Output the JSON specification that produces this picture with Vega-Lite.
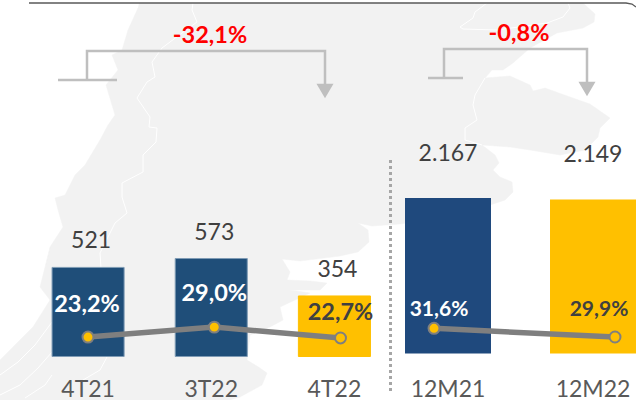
{
"$schema":"https://vega.github.io/schema/vega-lite/v6.json",
"width":636,"height":400,"padding":0,"autosize":{"type":"none"},
"background":"white",
"config":{"view":{"stroke":null},"font":"Lato","text":{"font":"Lato"}},
"datasets":{
"quarters":[{"period":"4T21","value":521,"margin":23.2},{"period":"3T22","value":573,"margin":29.0},{"period":"4T22","value":354,"margin":22.7}],
"years":[{"period":"12M21","value":2167,"margin":31.6},{"period":"12M22","value":2149,"margin":29.9}],
"map":[
{"part":"a","i":1,"x":139,"y":3},{"part":"a","i":2,"x":583,"y":3},{"part":"a","i":3,"x":595,"y":14},{"part":"a","i":4,"x":594,"y":22},{"part":"a","i":5,"x":583,"y":28},{"part":"a","i":6,"x":557,"y":33},{"part":"a","i":7,"x":530,"y":48},{"part":"a","i":8,"x":513,"y":63},{"part":"a","i":9,"x":503,"y":70},{"part":"a","i":10,"x":492,"y":70},{"part":"a","i":11,"x":485,"y":78},{"part":"a","i":12,"x":510,"y":76},{"part":"a","i":13,"x":530,"y":85},{"part":"a","i":14,"x":533,"y":91},{"part":"a","i":15,"x":545,"y":88},{"part":"a","i":16,"x":570,"y":97},{"part":"a","i":17,"x":590,"y":104},{"part":"a","i":18,"x":610,"y":118},{"part":"a","i":19,"x":600,"y":128},{"part":"a","i":20,"x":598,"y":137},{"part":"a","i":21,"x":585,"y":150},{"part":"a","i":22,"x":560,"y":155},{"part":"a","i":23,"x":530,"y":150},{"part":"a","i":24,"x":510,"y":147},{"part":"a","i":25,"x":482,"y":145},{"part":"a","i":26,"x":495,"y":155},{"part":"a","i":27,"x":499,"y":163},{"part":"a","i":28,"x":493,"y":170},{"part":"a","i":29,"x":500,"y":177},{"part":"a","i":30,"x":512,"y":182},{"part":"a","i":31,"x":513,"y":192},{"part":"a","i":32,"x":505,"y":200},{"part":"a","i":33,"x":490,"y":205},{"part":"a","i":34,"x":470,"y":215},{"part":"a","i":35,"x":400,"y":224},{"part":"a","i":36,"x":372,"y":226},{"part":"a","i":37,"x":358,"y":223},{"part":"a","i":38,"x":368,"y":230},{"part":"a","i":39,"x":369,"y":242},{"part":"a","i":40,"x":358,"y":252},{"part":"a","i":41,"x":340,"y":256},{"part":"a","i":42,"x":300,"y":261},{"part":"a","i":43,"x":282,"y":259},{"part":"a","i":44,"x":290,"y":272},{"part":"a","i":45,"x":287,"y":280},{"part":"a","i":46,"x":310,"y":281},{"part":"a","i":47,"x":327,"y":283},{"part":"a","i":48,"x":320,"y":290},{"part":"a","i":49,"x":290,"y":290},{"part":"a","i":50,"x":310,"y":293},{"part":"a","i":51,"x":280,"y":307},{"part":"a","i":52,"x":283,"y":320},{"part":"a","i":53,"x":270,"y":327},{"part":"a","i":54,"x":250,"y":335},{"part":"a","i":55,"x":247,"y":360},{"part":"a","i":56,"x":260,"y":368},{"part":"a","i":57,"x":267,"y":373},{"part":"a","i":58,"x":262,"y":385},{"part":"a","i":59,"x":240,"y":397},{"part":"a","i":60,"x":230,"y":400},{"part":"a","i":61,"x":0,"y":400},{"part":"a","i":62,"x":0,"y":360},{"part":"a","i":63,"x":13,"y":347},{"part":"a","i":64,"x":33,"y":327},{"part":"a","i":65,"x":50,"y":300},{"part":"a","i":66,"x":40,"y":287},{"part":"a","i":67,"x":45,"y":267},{"part":"a","i":68,"x":50,"y":247},{"part":"a","i":69,"x":63,"y":227},{"part":"a","i":70,"x":58,"y":210},{"part":"a","i":71,"x":55,"y":198},{"part":"a","i":72,"x":65,"y":195},{"part":"a","i":73,"x":75,"y":175},{"part":"a","i":74,"x":85,"y":165},{"part":"a","i":75,"x":100,"y":140},{"part":"a","i":76,"x":108,"y":125},{"part":"a","i":77,"x":115,"y":115},{"part":"a","i":78,"x":106,"y":85},{"part":"a","i":79,"x":118,"y":70},{"part":"a","i":80,"x":112,"y":55},{"part":"a","i":81,"x":122,"y":50},{"part":"a","i":82,"x":128,"y":30},{"part":"a","i":83,"x":138,"y":8}
],
"rivers":[
{"part":"r1","i":1,"x":193,"y":3},{"part":"r1","i":2,"x":192,"y":10},{"part":"r1","i":3,"x":197,"y":22},{"part":"r1","i":4,"x":182,"y":33},{"part":"r1","i":5,"x":162,"y":48},{"part":"r1","i":6,"x":152,"y":62},{"part":"r1","i":7,"x":155,"y":77},{"part":"r1","i":8,"x":147,"y":82},{"part":"r1","i":9,"x":137,"y":98},{"part":"r1","i":10,"x":150,"y":117},{"part":"r1","i":11,"x":149,"y":127},{"part":"r1","i":12,"x":157,"y":128},{"part":"r1","i":13,"x":156,"y":142},{"part":"r1","i":14,"x":143,"y":155},{"part":"r1","i":15,"x":143,"y":172},{"part":"r1","i":16,"x":122,"y":183},{"part":"r1","i":17,"x":122,"y":197},{"part":"r1","i":18,"x":127,"y":213},{"part":"r1","i":19,"x":115,"y":223},{"part":"r1","i":20,"x":100,"y":253},{"part":"r1","i":21,"x":107,"y":357},{"part":"r1","i":22,"x":100,"y":370},{"part":"r1","i":23,"x":83,"y":380},{"part":"r1","i":24,"x":80,"y":397},
{"part":"r2","i":1,"x":487,"y":3},{"part":"r2","i":2,"x":475,"y":12},{"part":"r2","i":3,"x":473,"y":18},{"part":"r2","i":4,"x":460,"y":27},{"part":"r2","i":5,"x":463,"y":29},{"part":"r2","i":6,"x":497,"y":30},{"part":"r2","i":7,"x":547,"y":23},{"part":"r2","i":8,"x":563,"y":17},{"part":"r2","i":9,"x":570,"y":8},{"part":"r2","i":10,"x":568,"y":3},
{"part":"r3","i":1,"x":485,"y":78},{"part":"r3","i":2,"x":475,"y":95},{"part":"r3","i":3,"x":473,"y":105},{"part":"r3","i":4,"x":477,"y":120},{"part":"r3","i":5,"x":465,"y":128},{"part":"r3","i":6,"x":465,"y":140},{"part":"r3","i":7,"x":482,"y":145},
{"part":"f1","i":1,"x":0,"y":395},{"part":"f1","i":2,"x":20,"y":385},{"part":"f1","i":3,"x":38,"y":368},{"part":"f1","i":4,"x":52,"y":352},
{"part":"f2","i":1,"x":0,"y":375},{"part":"f2","i":2,"x":18,"y":362},{"part":"f2","i":3,"x":35,"y":345},{"part":"f2","i":4,"x":52,"y":322},
{"part":"f3","i":1,"x":25,"y":398},{"part":"f3","i":2,"x":45,"y":385},{"part":"f3","i":3,"x":52,"y":375}
],
"brackets":[
{"part":"t1","i":1,"x":58,"y":80},{"part":"t1","i":2,"x":117,"y":80},
{"part":"a1","i":1,"x":87,"y":80},{"part":"a1","i":2,"x":87,"y":51},{"part":"a1","i":3,"x":325,"y":51},{"part":"a1","i":4,"x":325,"y":90},
{"part":"t2","i":1,"x":428,"y":78},{"part":"t2","i":2,"x":463,"y":78},
{"part":"a2","i":1,"x":444,"y":78},{"part":"a2","i":2,"x":444,"y":49},{"part":"a2","i":3,"x":587,"y":49},{"part":"a2","i":4,"x":587,"y":88}
],
"heads":[{"x":325,"y":91},{"x":587,"y":89}],
"deltas":[{"label":"-32,1%","x":210,"y":36},{"label":"-0,8%","x":519,"y":34}],
"frame":[{"i":1,"x":29,"y":3},{"i":2,"x":626,"y":3},{"i":3,"x":632,"y":4},{"i":4,"x":636,"y":7}],
"divider":[{"x":390.5,"y":160},{"x":390.5,"y":392}]
},
"resolve":{"scale":{"x":"independent","y":"independent","fill":"independent","stroke":"independent"},"axis":{"x":"independent","y":"independent"}},
"layer":[
{"data":{"name":"map"},"mark":{"type":"line","fill":"#f2f2f2","stroke":"#f2f2f2","strokeWidth":0.5},
 "encoding":{"x":{"field":"x","type":"quantitative","axis":null,"scale":{"domain":[0,636],"range":[0,636]}},"y":{"field":"y","type":"quantitative","axis":null,"scale":{"domain":[0,400],"range":[0,400]}},"order":{"field":"i"},"detail":{"field":"part"}}},
{"data":{"name":"rivers"},"mark":{"type":"line","stroke":"white","strokeWidth":1},
 "encoding":{"x":{"field":"x","type":"quantitative","axis":null,"scale":{"domain":[0,636],"range":[0,636]}},"y":{"field":"y","type":"quantitative","axis":null,"scale":{"domain":[0,400],"range":[0,400]}},"order":{"field":"i"},"detail":{"field":"part"}}},
{"data":{"name":"frame"},"mark":{"type":"line","stroke":"#595959","strokeWidth":1.3},
 "encoding":{"x":{"field":"x","type":"quantitative","axis":null,"scale":{"domain":[0,636],"range":[0,636]}},"y":{"field":"y","type":"quantitative","axis":null,"scale":{"domain":[0,400],"range":[0,400]}},"order":{"field":"i"}}},
{"data":{"name":"divider"},"mark":{"type":"line","stroke":"#a6a6a6","strokeWidth":3,"strokeDash":[3,3]},
 "encoding":{"x":{"field":"x","type":"quantitative","axis":null,"scale":{"domain":[0,636],"range":[0,636]}},"y":{"field":"y","type":"quantitative","axis":null,"scale":{"domain":[0,400],"range":[0,400]}}}},
{"data":{"name":"brackets"},"mark":{"type":"line","stroke":"#bfbfbf","strokeWidth":2.5,"strokeJoin":"miter"},
 "encoding":{"x":{"field":"x","type":"quantitative","axis":null,"scale":{"domain":[0,636],"range":[0,636]}},"y":{"field":"y","type":"quantitative","axis":null,"scale":{"domain":[0,400],"range":[0,400]}},"order":{"field":"i"},"detail":{"field":"part"}}},
{"data":{"name":"heads"},"mark":{"type":"point","shape":"triangle-down","filled":true,"color":"#bfbfbf","opacity":1,"size":290},
 "encoding":{"x":{"field":"x","type":"quantitative","axis":null,"scale":{"domain":[0,636],"range":[0,636]}},"y":{"field":"y","type":"quantitative","axis":null,"scale":{"domain":[0,400],"range":[0,400]}}}},
{"data":{"name":"deltas"},"mark":{"type":"text","font":"Lato","fontWeight":"bold","fontSize":23.5,"color":"#ff0000","baseline":"middle"},
 "encoding":{"text":{"field":"label"},"x":{"field":"x","type":"quantitative","axis":null,"scale":{"domain":[0,636],"range":[0,636]}},"y":{"field":"y","type":"quantitative","axis":null,"scale":{"domain":[0,400],"range":[0,400]}}}},

{"data":{"name":"quarters"},"mark":{"type":"bar","strokeWidth":1},
 "encoding":{
  "x":{"field":"period","type":"nominal","sort":null,"title":null,"scale":{"type":"band","domain":["4T21","3T22","4T22"],"range":[26.5,396],"paddingInner":0.415,"paddingOuter":0.2075},"axis":{"orient":"bottom","offset":-22,"zindex":1,"domain":false,"ticks":false,"labelPadding":0,"labelAngle":0,"labelFont":"Lato","labelFontSize":23,"labelColor":"#595959","grid":false}},
  "y":{"field":"value","type":"quantitative","axis":null,"scale":{"domain":[0,600],"range":[356.5,253.9]}},
  "fill":{"field":"period","type":"nominal","legend":null,"scale":{"domain":["4T21","3T22","4T22"],"range":["#1f4e79","#1f4e79","#ffc000"]}},
  "stroke":{"field":"period","type":"nominal","legend":null,"scale":{"domain":["4T21","3T22","4T22"],"range":["#7f9bb5","#7f9bb5","#ffc000"]}}}},
{"data":{"name":"quarters"},"mark":{"type":"text","font":"Lato","fontSize":23,"color":"#404040","dy":-26,"dx":3,"baseline":"middle"},
 "encoding":{"text":{"field":"value","type":"nominal"},
  "x":{"field":"period","type":"nominal","sort":null,"axis":null,"scale":{"type":"band","domain":["4T21","3T22","4T22"],"range":[26.5,396],"paddingInner":0.415,"paddingOuter":0.2075}},
  "y":{"field":"value","type":"quantitative","axis":null,"scale":{"domain":[0,600],"range":[356.5,253.9]}}}},
{"data":{"name":"years"},"mark":{"type":"bar"},
 "encoding":{
  "x":{"field":"period","type":"nominal","sort":null,"title":null,"scale":{"type":"band","domain":["12M21","12M22"],"range":[375.5,665.5],"paddingInner":0.407,"paddingOuter":0.2035},"axis":{"orient":"bottom","offset":-22,"zindex":1,"domain":false,"ticks":false,"labelPadding":0,"labelAngle":0,"labelFont":"Lato","labelFontSize":23,"labelColor":"#595959","grid":false}},
  "y":{"field":"value","type":"quantitative","axis":null,"scale":{"domain":[0,2400],"range":[353.5,181.4]}},
  "fill":{"field":"period","type":"nominal","legend":null,"scale":{"domain":["12M21","12M22"],"range":["#1f497d","#ffc000"]}}}},
{"data":{"name":"years"},"mark":{"type":"text","font":"Lato","fontSize":23,"color":"#404040","dy":-44,"baseline":"middle"},
 "encoding":{"text":{"field":"label","type":"nominal"},
  "x":{"field":"period","type":"nominal","sort":null,"axis":null,"scale":{"type":"band","domain":["12M21","12M22"],"range":[375.5,665.5],"paddingInner":0.407,"paddingOuter":0.2035}},
  "y":{"field":"value","type":"quantitative","axis":null,"scale":{"domain":[0,2400],"range":[353.5,181.4]}}},
 "transform":[{"calculate":"replace(format(datum.value,','),',','.')","as":"label"}]},

{"data":{"name":"quarters"},"mark":{"type":"line","stroke":"#7f7f7f","strokeWidth":5.5},
 "encoding":{"x":{"field":"period","type":"nominal","sort":null,"axis":null,"scale":{"type":"point","domain":["4T21","3T22","4T22"],"range":[88,340.5],"padding":0}},
  "y":{"field":"margin","type":"quantitative","axis":null,"scale":{"domain":[0,40],"range":[377,308.2]}}}},
{"data":{"name":"quarters"},"mark":{"type":"point","filled":false,"fill":"#ffc000","stroke":"#7f7f7f","strokeWidth":2,"opacity":1,"size":120},
 "encoding":{"x":{"field":"period","type":"nominal","sort":null,"axis":null,"scale":{"type":"point","domain":["4T21","3T22","4T22"],"range":[88,340.5],"padding":0}},
  "y":{"field":"margin","type":"quantitative","axis":null,"scale":{"domain":[0,40],"range":[377,308.2]}}}},
{"data":{"name":"years"},"mark":{"type":"line","stroke":"#7f7f7f","strokeWidth":5.5},
 "encoding":{"x":{"field":"period","type":"nominal","sort":null,"axis":null,"scale":{"type":"point","domain":["12M21","12M22"],"range":[434,615],"padding":0}},
  "y":{"field":"margin","type":"quantitative","axis":null,"scale":{"domain":[0,40],"range":[489.5,285.5]}}}},
{"data":{"name":"years"},"mark":{"type":"point","filled":false,"fill":"#ffc000","stroke":"#7f7f7f","strokeWidth":2,"opacity":1,"size":120},
 "encoding":{"x":{"field":"period","type":"nominal","sort":null,"axis":null,"scale":{"type":"point","domain":["12M21","12M22"],"range":[434,615],"padding":0}},
  "y":{"field":"margin","type":"quantitative","axis":null,"scale":{"domain":[0,40],"range":[489.5,285.5]}}}},

{"data":{"name":"quarters"},"transform":[{"filter":"datum.period==='4T21'"},{"calculate":"replace(format(datum.margin,'.1f'),'.',',')+'%'","as":"label"}],"mark":{"type":"text","font":"Lato","fontWeight":"bold","fontSize":23.5,"color":"white","dy":-32,"dx":-1,"baseline":"middle"},
 "encoding":{"text":{"field":"label"},"x":{"field":"period","type":"nominal","sort":null,"axis":null,"scale":{"type":"point","domain":["4T21","3T22","4T22"],"range":[88,340.5],"padding":0}},"y":{"field":"margin","type":"quantitative","axis":null,"scale":{"domain":[0,40],"range":[377,308.2]}}}},
{"data":{"name":"quarters"},"transform":[{"filter":"datum.period==='3T22'"},{"calculate":"replace(format(datum.margin,'.1f'),'.',',')+'%'","as":"label"}],"mark":{"type":"text","font":"Lato","fontWeight":"bold","fontSize":23.5,"color":"white","dy":-33,"baseline":"middle"},
 "encoding":{"text":{"field":"label"},"x":{"field":"period","type":"nominal","sort":null,"axis":null,"scale":{"type":"point","domain":["4T21","3T22","4T22"],"range":[88,340.5],"padding":0}},"y":{"field":"margin","type":"quantitative","axis":null,"scale":{"domain":[0,40],"range":[377,308.2]}}}},
{"data":{"name":"quarters"},"transform":[{"filter":"datum.period==='4T22'"},{"calculate":"replace(format(datum.margin,'.1f'),'.',',')+'%'","as":"label"}],"mark":{"type":"text","font":"Lato","fontWeight":"bold","fontSize":23.5,"color":"#404040","dy":-25,"baseline":"middle"},
 "encoding":{"text":{"field":"label"},"x":{"field":"period","type":"nominal","sort":null,"axis":null,"scale":{"type":"point","domain":["4T21","3T22","4T22"],"range":[88,340.5],"padding":0}},"y":{"field":"margin","type":"quantitative","axis":null,"scale":{"domain":[0,40],"range":[377,308.2]}}}},
{"data":{"name":"years"},"transform":[{"filter":"datum.period==='12M21'"},{"calculate":"replace(format(datum.margin,'.1f'),'.',',')+'%'","as":"label"}],"mark":{"type":"text","font":"Lato","fontWeight":"bold","fontSize":21,"color":"white","dy":-18,"dx":5,"baseline":"middle"},
 "encoding":{"text":{"field":"label"},"x":{"field":"period","type":"nominal","sort":null,"axis":null,"scale":{"type":"point","domain":["12M21","12M22"],"range":[434,615],"padding":0}},"y":{"field":"margin","type":"quantitative","axis":null,"scale":{"domain":[0,40],"range":[489.5,285.5]}}}},
{"data":{"name":"years"},"transform":[{"filter":"datum.period==='12M22'"},{"calculate":"replace(format(datum.margin,'.1f'),'.',',')+'%'","as":"label"}],"mark":{"type":"text","font":"Lato","fontWeight":"bold","fontSize":21,"color":"#404040","dy":-27,"dx":-16,"baseline":"middle"},
 "encoding":{"text":{"field":"label"},"x":{"field":"period","type":"nominal","sort":null,"axis":null,"scale":{"type":"point","domain":["12M21","12M22"],"range":[434,615],"padding":0}},"y":{"field":"margin","type":"quantitative","axis":null,"scale":{"domain":[0,40],"range":[489.5,285.5]}}}}
]
}
